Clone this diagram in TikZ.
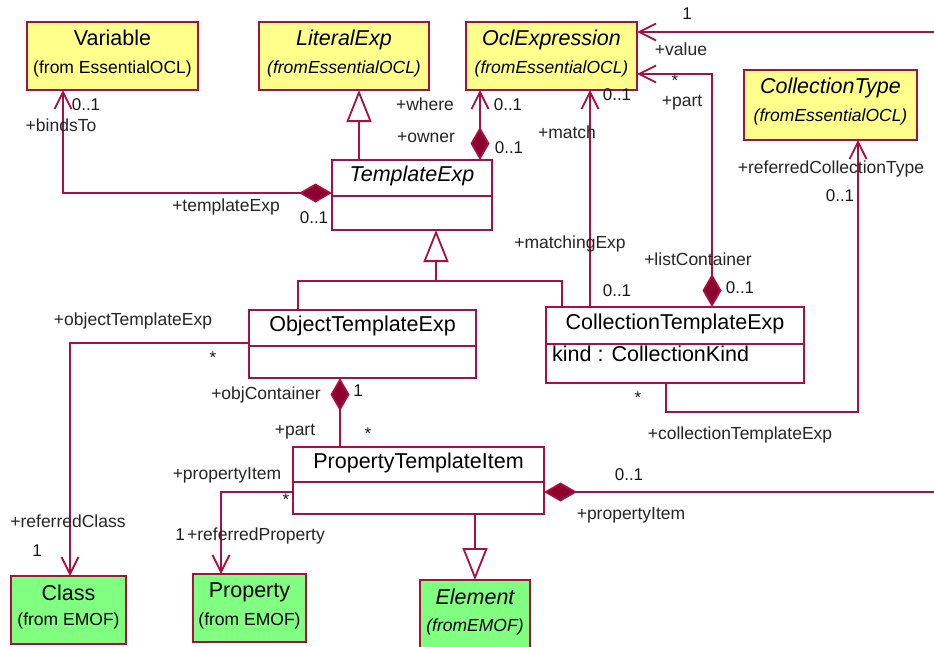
\documentclass[tikz,border=0pt]{standalone}
\usepackage{fontspec}
\setmainfont{Liberation Sans}
\usetikzlibrary{arrows.meta}

\definecolor{umlline}{RGB}{168,16,64}
\definecolor{umldiamond}{RGB}{140,0,48}
\definecolor{umlyellow}{RGB}{255,255,140}
\definecolor{umlgreen}{RGB}{128,255,128}

\tikzset{
  classbox/.style={draw=umlline, line width=1.8pt, inner sep=0pt, outer sep=0pt, fill=white},
  extbox/.style={classbox, fill=umlyellow},
  emofbox/.style={classbox, fill=umlgreen},
  cname/.style={font=\fontsize{21.5}{24}\selectfont, inner sep=0pt, text height=0.72em, text depth=0pt},
  csub/.style={font=\fontsize{17.5}{20}\selectfont, inner sep=0pt, text height=0.72em, text depth=0pt},
  role/.style={font=\fontsize{17.5}{20}\selectfont, inner sep=0pt, text height=0.72em, text depth=0pt, text=black!85},
  mult/.style={font=\fontsize{17}{20}\selectfont, inner sep=0pt, text height=0.72em, text depth=0pt, text=black!90},
  starmult/.style={mult, text height=0.7em, text depth=-0.3em},
  assoc/.style={draw=umlline, line width=1.8pt},
  nav/.style={assoc, -{Straight Barb[length=17pt, width=17pt]}},
  comp/.style={assoc, {Diamond[length=33pt, width=19pt, fill=umldiamond]}-{Straight Barb[length=17pt, width=17pt]}},
  compend/.style={assoc, {Diamond[length=33pt, width=19pt, fill=umldiamond]}-},
  gen/.style={assoc, -{Triangle[length=32pt, width=25pt, fill=white]}},
}

\begin{document}
\begin{tikzpicture}[x=1pt, y=-1pt]
  \fill[white] (0,0) rectangle (934,646);
  \clip (0,0) rectangle (934,646);

  % ---- classes imported from EssentialOCL ----
  \node[extbox, minimum width=171pt, minimum height=68pt] (var) at (112.5,56) {};
  \node[cname] (varN) at ([yshift=-20pt]var.north) {Variable};
  \node[csub]  (varS) at ([yshift=-48pt]var.north) {(from EssentialOCL)};

  \node[extbox, minimum width=170pt, minimum height=68pt] (lit) at (344,56) {};
  \node[cname] (litN) at ([yshift=-20pt]lit.north) {\itshape LiteralExp};
  \node[csub]  (litS) at ([yshift=-48pt]lit.north) {\itshape (fromEssentialOCL)};

  \node[extbox, minimum width=171pt, minimum height=68pt] (ocl) at (551.5,56) {};
  \node[cname] (oclN) at ([yshift=-20pt]ocl.north) {\itshape OclExpression};
  \node[csub]  (oclS) at ([yshift=-48pt]ocl.north) {\itshape (fromEssentialOCL)};

  \node[extbox, minimum width=173pt, minimum height=70pt] (ctype) at (830.5,105) {};
  \node[cname] (ctypeN) at ([yshift=-20pt]ctype.north) {\itshape CollectionType};
  \node[csub]  (ctypeS) at ([yshift=-48pt]ctype.north) {\itshape (fromEssentialOCL)};

  % ---- template classes ----
  \node[classbox, minimum width=160pt, minimum height=70pt] (tmpl) at (412,195) {};
  \draw[assoc] ([yshift=-36pt]tmpl.north west) -- ([yshift=-36pt]tmpl.north east);
  \node[cname] (tmplN) at ([yshift=-18pt]tmpl.north) {\itshape TemplateExp};

  \node[classbox, minimum width=227pt, minimum height=68pt] (ote) at (362.5,344) {};
  \draw[assoc] ([yshift=-36pt]ote.north west) -- ([yshift=-36pt]ote.north east);
  \node[cname] (oteN) at ([yshift=-18pt]ote.north) {ObjectTemplateExp};

  \node[classbox, minimum width=258pt, minimum height=76pt] (cte) at (675,345) {};
  \draw[assoc] ([yshift=-37pt]cte.north west) -- ([yshift=-37pt]cte.north east);
  \node[cname] (cteN) at ([yshift=-18.5pt]cte.north) {CollectionTemplateExp};
  \node[cname, anchor=west] (cteA) at ([xshift=6pt, yshift=-51pt]cte.north west) {kind : CollectionKind};

  \node[classbox, minimum width=251pt, minimum height=67pt] (pti) at (418.5,480.5) {};
  \draw[assoc] ([yshift=-35pt]pti.north west) -- ([yshift=-35pt]pti.north east);
  \node[cname] (ptiN) at ([yshift=-17.5pt]pti.north) {PropertyTemplateItem};

  % ---- classes imported from EMOF ----
  \node[emofbox, minimum width=115pt, minimum height=68pt] (cls) at (68.5,610) {};
  \node[cname] (clsN) at ([yshift=-21pt]cls.north) {Class};
  \node[csub]  (clsS) at ([yshift=-46pt]cls.north) {(from EMOF)};

  \node[emofbox, minimum width=113pt, minimum height=68pt] (prop) at (249.5,608) {};
  \node[cname] (propN) at ([yshift=-20pt]prop.north) {Property};
  \node[csub]  (propS) at ([yshift=-48pt]prop.north) {(from EMOF)};

  \node[emofbox, minimum width=110pt, minimum height=70pt] (elem) at (475,615) {};
  \node[cname] (elemN) at ([yshift=-21pt]elem.north) {\itshape Element};
  \node[csub]  (elemS) at ([yshift=-48pt]elem.north) {\itshape (fromEMOF)};

  % ---- free ends and junctions ----
  \coordinate (valEnd) at (934,32);
  \coordinate (piEnd) at (934,492);
  \coordinate (gj) at (436,281);

  % ---- connectors ----
  \draw[comp] ([yshift=2pt]tmpl.west) -| ([xshift=36pt]var.south west);
  \draw[gen] ([xshift=27pt]tmpl.north west) -- ([xshift=15pt]lit.south);
  \draw[comp] ([xshift=148pt]tmpl.north west) -- ([xshift=14pt]ocl.south west);
  \draw[nav] ([xshift=44pt]cte.north west) -- ([xshift=124pt]ocl.south west);
  \draw[comp] ([xshift=166pt]cte.north west) |- ([yshift=-18pt]ocl.east);
  \draw[nav] (valEnd) -- ([yshift=24pt]ocl.east);
  \draw[nav] ([xshift=120pt]cte.south west) -- ++(0,29) -| ([xshift=27.5pt]ctype.south);
  \draw[assoc] ([xshift=49pt]ote.north west) |- (gj) -| ([xshift=16pt]cte.north west);
  \draw[gen] (gj) -- ([xshift=24pt]tmpl.south);
  \draw[nav] ([yshift=1pt]ote.west) -| ([xshift=1.5pt]cls.north);
  \draw[compend] ([xshift=91pt]ote.south west) -- ([xshift=47pt]pti.north west);
  \draw[nav] ([yshift=-11.5pt]pti.west) -| ([xshift=-28.5pt]prop.north);
  \draw[gen] (elem.north |- pti.south) -- (elem.north);
  \draw[compend] ([yshift=-11.5pt]pti.east) -- (piEnd);

  % ---- role names and multiplicities ----
  \node[role] (l1) at (61,128) {+bindsTo};
  \node[mult] (m1) at (86,107) {0..1};
  \node[role] (l2) at (226,208) {+templateExp};
  \node[mult] (m2) at (314,220) {0..1};
  \node[role] (l3) at (425,107) {+where};
  \node[role] (l4) at (426,139) {+owner};
  \node[mult] (m3) at (508,107) {0..1};
  \node[mult] (m4) at (509,150) {0..1};
  \node[role] (l5) at (567,135) {+match};
  \node[mult] (m5) at (617,97) {0..1};
  \node[mult] (m6) at (687,16) {1};
  \node[role] (l6) at (681,52) {+value};
  \node[starmult] (m7) at (675,83) {*};
  \node[role] (l7) at (682,103) {+part};
  \node[role] (l8) at (831,170) {+referredCollectionType};
  \node[mult] (m8) at (840,198) {0..1};
  \node[role] (l9) at (570,245) {+matchingExp};
  \node[mult] (m9) at (617,293) {0..1};
  \node[role] (l10) at (698,262) {+listContainer};
  \node[mult] (m10) at (740,290) {0..1};
  \node[role] (l11) at (133,322) {+objectTemplateExp};
  \node[starmult] (m11) at (213,360) {*};
  \node[role] (l12) at (266,396) {+objContainer};
  \node[mult] (m12) at (358,393) {1};
  \node[role] (l13) at (295,432) {+part};
  \node[starmult] (m13) at (368,436) {*};
  \node[starmult] (m14) at (638,400) {*};
  \node[role] (l14) at (740,436) {+collectionTemplateExp};
  \node[role] (l15) at (227,476) {+propertyItem};
  \node[starmult] (m15) at (286,502) {*};
  \node[role, anchor=west] (l16) at (187,537) {+referredProperty};
  \node[mult, anchor=east] (m16) at (185,537) {1};
  \node[mult] (m17) at (629,477) {0..1};
  \node[role] (l17) at (631,516) {+propertyItem};
  \node[role] (l18) at (68,524) {+referredClass};
  \node[mult] (m18) at (37,553) {1};
\end{tikzpicture}
\end{document}
